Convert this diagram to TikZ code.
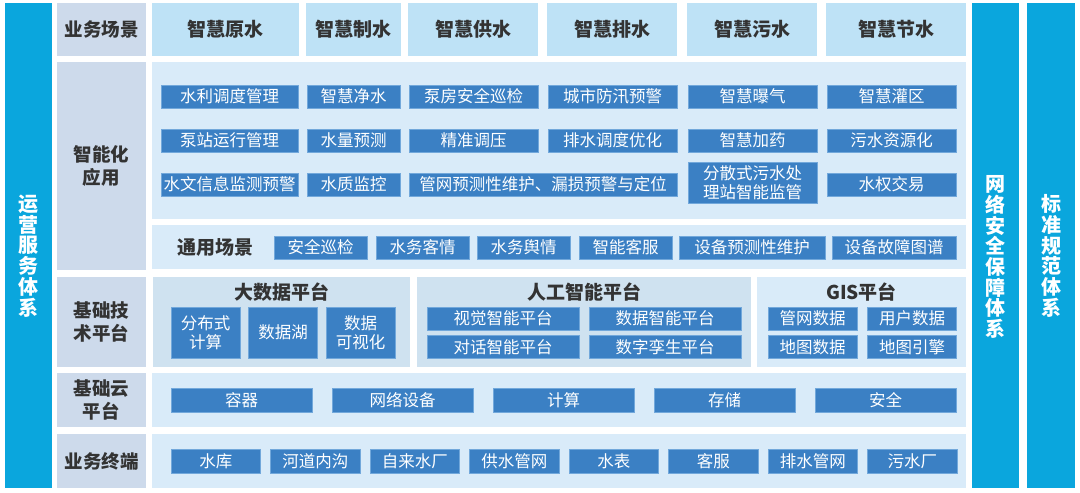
\documentclass[tikz,border=0pt]{standalone}
\usepackage{fontspec}
\setmainfont{Noto Sans CJK SC}
\usepackage{xcolor}
\usepackage{tikz}
\usetikzlibrary{positioning}
\definecolor{sidecyan}{HTML}{0AA6DD}
\definecolor{labelgray}{HTML}{CDDAEB}
\definecolor{scenecyan}{HTML}{BEE2F6}
\definecolor{panelblue}{HTML}{D9EBF9}
\definecolor{subpanelblue}{HTML}{CFE2F0}
\definecolor{boxblue}{HTML}{3B80C4}
\definecolor{boxedge}{HTML}{72A8DB}
\definecolor{darktext}{HTML}{333333}
\tikzstyle{sidebar} = [rectangle, minimum width=47pt, minimum height=485pt, inner sep=0pt, outer sep=0pt, fill=sidecyan]
\tikzstyle{sidetext} = [inner sep=0pt, text=white, align=center, font=\fontsize{20}{20.7}\selectfont\bfseries]
\tikzstyle{rowlabel} = [rectangle, minimum width=89pt, inner sep=0pt, outer sep=0pt, fill=labelgray, text=darktext, align=center, font=\fontsize{18.5}{22.5}\selectfont\bfseries]
\tikzstyle{scene} = [rectangle, minimum height=53pt, inner sep=0pt, outer sep=0pt, fill=scenecyan, text=darktext, font=\fontsize{19}{22}\selectfont\bfseries]
\tikzstyle{panel} = [rectangle, inner sep=0pt, outer sep=0pt, fill=panelblue]
\tikzstyle{subpanel} = [rectangle, minimum height=90pt, inner sep=0pt, outer sep=0pt, fill=subpanelblue]
\tikzstyle{caption} = [inner sep=0pt, text=darktext, font=\fontsize{19}{22}\selectfont\bfseries]
\tikzstyle{tile} = [rectangle, minimum height=23pt, inner sep=0pt, outer sep=0pt, fill=boxblue, draw=boxedge, line width=0.6pt, text=white, align=center, font=\fontsize{16.5}{19.5}\selectfont]

\begin{document}
\begin{tikzpicture}[x=1pt, y=-1pt]
    \fill[white] (0,0) rectangle (1080,493);
    \useasboundingbox (0,0) rectangle (1080,493);
    % Side bars
    \node (ops) [sidebar] at (28.5,245.5) {};
    \node (netsec) [sidebar] at (995.5,245.5) {};
    \node (norms) [sidebar, minimum width=48pt] at (1051,245.5) {};
    \node (opstext) [sidetext] at ([yshift=-10.5pt]ops.center) {运\\营\\服\\务\\体\\系};
    \node (netsectext) [sidetext] at ([yshift=-11.5pt]netsec.center) {网\\络\\安\\全\\保\\障\\体\\系};
    \node (normstext) [sidetext] at ([yshift=-10.5pt]norms.center) {标\\准\\规\\范\\体\\系};
    % Row labels
    \node (lscene) [rowlabel, minimum height=53pt] at (101.5,29.5) {业务场景};
    \node (lapp) [rowlabel, minimum height=208pt] at (101.5,166) {智能化\\应用};
    \node (ltech) [rowlabel, minimum height=90pt] at (101.5,322) {基础技\\术平台};
    \node (lcloud) [rowlabel, minimum height=54pt] at (101.5,400) {基础云\\平台};
    \node (lterm) [rowlabel, minimum height=54pt] at (101.5,461) {业务终端};
    % Scenes
    \node (s1) [scene, minimum width=147pt] at (225.5,29.5) {智慧原水};
    \node (s2) [scene, minimum width=95pt] at (353.5,29.5) {智慧制水};
    \node (s3) [scene, minimum width=130pt] at (473,29.5) {智慧供水};
    \node (s4) [scene, minimum width=130pt] at (612,29.5) {智慧排水};
    \node (s5) [scene, minimum width=130pt] at (752,29.5) {智慧污水};
    \node (s6) [scene, minimum width=140pt] at (896,29.5) {智慧节水};
    % Panels
    \node (papp) [panel, minimum width=814pt, minimum height=157pt] at (559,140.5) {};
    \node (pgen) [panel, minimum width=814pt, minimum height=44pt] at (559,247) {};
    \node (pbig) [subpanel, minimum width=257pt] at (281.5,322) {};
    \node (pai) [subpanel, minimum width=334pt] at (584,322) {};
    \node (pgis) [panel, minimum width=209pt, minimum height=90pt] at (861.5,322) {};
    \node (pcloud) [panel, minimum width=814pt, minimum height=54pt] at (559,400) {};
    \node (pterm) [panel, minimum width=814pt, minimum height=54pt] at (559,461) {};
    % Intelligent applications
    \node (a11) [tile, minimum width=137pt] at (229.5,96.5) {水利调度管理};
    \node (a12) [tile, minimum width=93pt] at (353.5,96.5) {智慧净水};
    \node (a13) [tile, minimum width=129pt] at (473.5,96.5) {泵房安全巡检};
    \node (a14) [tile, minimum width=129pt] at (612.5,96.5) {城市防汛预警};
    \node (a15) [tile, minimum width=129pt] at (752.5,96.5) {智慧曝气};
    \node (a16) [tile, minimum width=129pt] at (891.5,96.5) {智慧灌区};
    \node (a21) [tile, minimum width=137pt] at (229.5,140.5) {泵站运行管理};
    \node (a22) [tile, minimum width=93pt] at (353.5,140.5) {水量预测};
    \node (a23) [tile, minimum width=129pt] at (473.5,140.5) {精准调压};
    \node (a24) [tile, minimum width=129pt] at (612.5,140.5) {排水调度优化};
    \node (a25) [tile, minimum width=129pt] at (752.5,140.5) {智慧加药};
    \node (a26) [tile, minimum width=129pt] at (891.5,140.5) {污水资源化};
    \node (a31) [tile, minimum width=137pt] at (229.5,184.5) {水文信息监测预警};
    \node (a32) [tile, minimum width=93pt] at (353.5,184.5) {水质监控};
    \node (a33) [tile, minimum width=268pt] at (543,184.5) {管网预测性维护、漏损预警与定位};
    \node (a35) [tile, minimum width=129pt, minimum height=41pt] at (752.5,182.5) {分散式污水处\\理站智能监管};
    \node (a36) [tile, minimum width=129pt] at (891.5,184.5) {水权交易};
    % General scenes
    \node (gen) [caption] at (215,247) {通用场景};
    \node (g1) [tile, minimum width=93pt] at (320.5,247.5) {安全巡检};
    \node (g2) [tile, minimum width=93pt] at (422.5,247.5) {水务客情};
    \node (g3) [tile, minimum width=93pt] at (523.5,247.5) {水务舆情};
    \node (g4) [tile, minimum width=93pt] at (625.5,247.5) {智能客服};
    \node (g5) [tile, minimum width=146pt] at (752,247.5) {设备预测性维护};
    \node (g6) [tile, minimum width=124pt] at (894,247.5) {设备故障图谱};
    % Technology platforms
    \node (tbig) [caption] at (281.5,292) {大数据平台};
    \node (tai) [caption] at (584,292) {人工智能平台};
    \node (tgis) [caption] at (861.5,292) {GIS平台};
    \node (b1) [tile, minimum width=69pt, minimum height=51pt] at (205.5,332.5) {分布式\\计算};
    \node (b2) [tile, minimum width=69pt, minimum height=51pt, right=8.5pt of b1] {数据湖};
    \node (b3) [tile, minimum width=69pt, minimum height=51pt, right=8.5pt of b2] {数据\\可视化};
    \node (ai1) [tile, minimum width=152pt] at (503,318.5) {视觉智能平台};
    \node (ai2) [tile, minimum width=152pt, right=10pt of ai1] {数据智能平台};
    \node (ai3) [tile, minimum width=152pt, below=5.5pt of ai1] {对话智能平台};
    \node (ai4) [tile, minimum width=152pt, below=5.5pt of ai2] {数字孪生平台};
    \node (gis1) [tile, minimum width=89pt] at (812.5,318.5) {管网数据};
    \node (gis2) [tile, minimum width=89pt, right=10.5pt of gis1] {用户数据};
    \node (gis3) [tile, minimum width=89pt, below=5.5pt of gis1] {地图数据};
    \node (gis4) [tile, minimum width=89pt, below=5.5pt of gis2] {地图引擎};
    % Cloud platform
    \node (c1) [tile, minimum width=141pt, minimum height=24pt] at (241.5,400) {容器};
    \node (c2) [tile, minimum width=141pt, minimum height=24pt, right=20pt of c1] {网络设备};
    \node (c3) [tile, minimum width=141pt, minimum height=24pt, right=20pt of c2] {计算};
    \node (c4) [tile, minimum width=141pt, minimum height=24pt, right=20pt of c3] {存储};
    \node (c5) [tile, minimum width=141pt, minimum height=24pt, right=20pt of c4] {安全};
    % Terminals
    \node (t1) [tile, minimum width=89.5pt, minimum height=24pt] at (215.75,461) {水库};
    \node (t2) [tile, minimum width=89.5pt, minimum height=24pt, right=10pt of t1] {河道内沟};
    \node (t3) [tile, minimum width=89.5pt, minimum height=24pt, right=10pt of t2] {自来水厂};
    \node (t4) [tile, minimum width=89.5pt, minimum height=24pt, right=10pt of t3] {供水管网};
    \node (t5) [tile, minimum width=89.5pt, minimum height=24pt, right=10pt of t4] {水表};
    \node (t6) [tile, minimum width=89.5pt, minimum height=24pt, right=10pt of t5] {客服};
    \node (t7) [tile, minimum width=89.5pt, minimum height=24pt, right=10pt of t6] {排水管网};
    \node (t8) [tile, minimum width=89.5pt, minimum height=24pt, right=10pt of t7] {污水厂};
\end{tikzpicture}
\end{document}
